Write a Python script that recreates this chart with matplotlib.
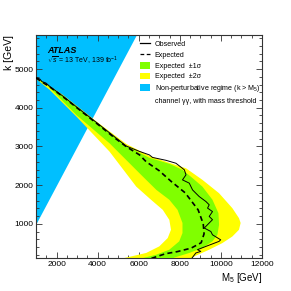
import numpy as np
import matplotlib
matplotlib.use("Agg")
import matplotlib.pyplot as plt
from matplotlib.lines import Line2D
from matplotlib.patches import Patch

plt.rcParams['font.family'] = ['Liberation Sans', 'DejaVu Sans']
plt.rcParams['mathtext.fontset'] = 'custom'
plt.rcParams['mathtext.rm'] = 'Liberation Sans'
plt.rcParams['mathtext.it'] = 'Liberation Sans:italic'
plt.rcParams['mathtext.bf'] = 'Liberation Sans:bold'

# ---- data (M5 [GeV], k [GeV]) ----
exp_m5 = [1000, 1340, 1680, 2310, 3130, 3940, 4830, 5390, 6040, 6360, 7000, 7590,
          8260, 8890, 9140, 9180, 9040, 8550, 7880, 7300, 6670, 6040]
exp_k = [4770, 4650, 4535, 4285, 3940, 3600, 3220, 2995, 2780, 2605, 2370, 2090,
         1800, 1360, 1000, 740, 510, 370, 280, 225, 115, 20]

obs_m5 = [1000, 1190, 1290, 1480, 1680, 2310, 3130, 3940, 4830, 5390, 6040, 6520,
          6670, 7330, 7810, 8220, 8300, 8130, 8460, 8620, 8940, 9270, 9430, 9350,
          9590, 9430, 9590, 9430, 9190, 9510, 9590, 9990, 9910, 9270, 8860, 9020,
          8780, 8460]
obs_k = [4780, 4740, 4675, 4640, 4545, 4300, 3955, 3620, 3245, 3010, 2870, 2780,
         2715, 2640, 2565, 2395, 2265, 2135, 2050, 1875, 1705, 1575, 1490, 1405,
         1315, 1190, 1105, 1020, 890, 800, 715, 585, 545, 415, 330, 285,
         245, 20]

y_out_m5 = [1000, 2310, 3940, 5390, 6520, 7490, 8300, 9100, 9910, 10555, 10880,
            10960, 10880, 10555, 10070, 9430, 8780, 8220]
y_out_k = [4790, 4330, 3645, 3065, 2755, 2575, 2435, 2135, 1790, 1405, 1145,
           1020, 845, 670, 500, 330, 175, 20]

g_out_m5 = [1000, 2310, 3940, 5390, 6520, 7490, 8130, 8620, 9100, 9590, 9880,
            9910, 9830, 9590, 9100, 8460, 7730, 7250]
g_out_k = [4785, 4300, 3620, 3010, 2705, 2550, 2395, 2180, 1960, 1620, 1275,
           975, 715, 545, 375, 245, 125, 20]

g_in_m5 = [1000, 1680, 2970, 4580, 6200, 6860, 7490, 7890, 8130, 8130, 7970,
           7490, 6850, 6040, 5310]
g_in_k = [4760, 4510, 3810, 3080, 2220, 1875, 1620, 1360, 1020, 760, 545,
          330, 200, 90, 20]

y_in_m5 = [1000, 1680, 2970, 4580, 5880, 6600, 7170, 7490, 7570, 7410, 7000,
           6360, 5300, 4500]
y_in_k = [4750, 4455, 3770, 2865, 1960, 1620, 1360, 1100, 845, 630, 415,
          245, 115, 20]

np_m5 = [1000, 6000]  # boundary k = M5

xlim = (1000, 12000)
ylim = (115, 5880)

fig = plt.figure(figsize=(2.91, 2.91), dpi=100)
ax = fig.add_axes([36/291, 1-258/291, 226/291, 223/291])

blue = '#00bfff'
green = '#80ff00'
yellow = '#ffff00'

ax.fill_between(np_m5, np_m5, ylim[1] + 1000, color=blue, lw=0, zorder=1)

ax.fill(list(y_out_m5) + list(y_in_m5)[::-1], list(y_out_k) + list(y_in_k)[::-1],
        color=yellow, lw=0, zorder=2)
ax.fill(list(g_out_m5) + list(g_in_m5)[::-1], list(g_out_k) + list(g_in_k)[::-1],
        color=green, lw=0, zorder=3)
ax.plot(exp_m5, exp_k, color='black', lw=1.2, ls=(0, (3, 2)), zorder=4)
ax.plot(obs_m5, obs_k, color='black', lw=0.7, zorder=5)

ax.set_xlim(*xlim)
ax.set_ylim(*ylim)
ax.set_xticks([2000, 4000, 6000, 8000, 10000, 12000])
ax.set_yticks([1000, 2000, 3000, 4000, 5000])
ax.set_xticks(np.arange(1000, 12001, 500), minor=True)
ax.set_yticks(np.arange(200, 5881, 200), minor=True)
ax.tick_params(which='both', direction='in', top=True, right=True, labelsize=6,
               width=0.6, color='#333333')
ax.tick_params(which='major', length=4.5, pad=2)
ax.tick_params(which='minor', length=2.3)
for s in ax.spines.values():
    s.set_linewidth(0.8)
    s.set_color('#333333')

ax.set_xlabel(r'M$_{5}$ [GeV]', fontsize=7, loc='right', labelpad=2)
ax.set_ylabel('k [GeV]', fontsize=7.5, loc='top', labelpad=0.5)

ax.text(0.05, 0.93, 'ATLAS', transform=ax.transAxes, fontsize=6.5,
        fontweight='bold', fontstyle='italic', va='center', ha='left')
ax.text(0.05, 0.885, r'$\sqrt{s}$ = 13 TeV, 139 fb$^{-1}$', transform=ax.transAxes,
        fontsize=5.0, va='center', ha='left')

handles = [
    Line2D([], [], color='black', lw=0.9),
    Line2D([], [], color='black', lw=0.9, ls=(0, (3, 2))),
    Patch(facecolor=green, edgecolor='none'),
    Patch(facecolor=yellow, edgecolor='none'),
    Patch(facecolor=blue, edgecolor='none'),
    Line2D([], [], color='none'),
]
labels = ['Observed', 'Expected', 'Expected  \u00b11\u03c3', 'Expected  \u00b12\u03c3',
          r'Non-perturbative regime (k > M$_{5}$)', 'channel \u03b3\u03b3, with mass threshold']
leg = ax.legend(handles, labels, loc='upper left', bbox_to_anchor=(0.46, 0.975),
                frameon=False, fontsize=5.1, handlelength=1.4, handleheight=1.1,
                handletextpad=0.7, labelspacing=0.4, borderpad=0, borderaxespad=0)
leg.set_zorder(10)

fig.savefig('out.png', dpi=100)
